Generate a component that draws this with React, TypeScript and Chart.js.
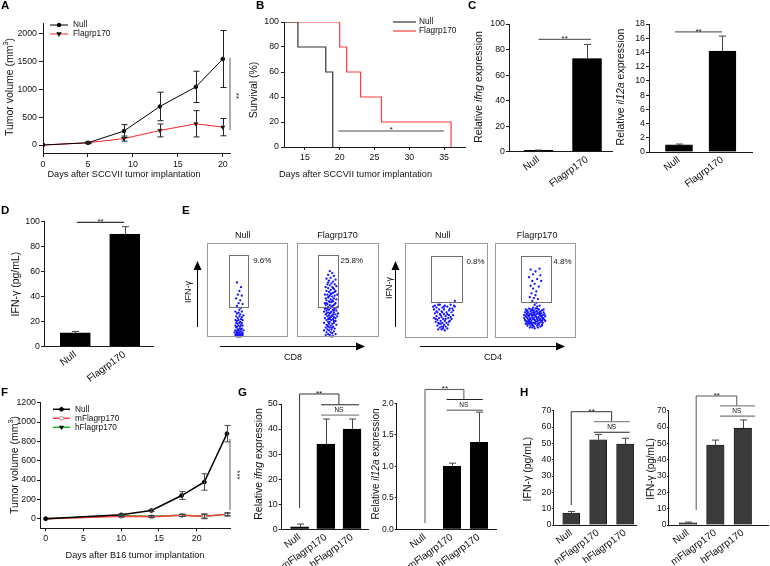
import React, { useEffect, useRef } from 'react';
import { Chart, registerables } from 'chart.js';
Chart.register(...registerables);

const FONT = '"Liberation Sans", Arial, Helvetica, sans-serif';
const AXIS = '#1a1a1a';
Chart.defaults.font.family = FONT;

// ---------- Panel A ----------
const daysA = [0, 5, 9, 13, 17, 20];
const nullA = [0, 40, 250, 690, 1040, 1540];
const nullAErr = [0, 15, 115, 255, 280, 510];
const flagA = [0, 40, 115, 260, 380, 320];
const flagAErr = [0, 15, 45, 115, 235, 155];
const xTicksA = [0, 5, 10, 15, 20];
const yTicksA = [0, 500, 1000, 1500, 2000];

// ---------- Panel B ----------
const nullBTime = [12, 14, 18, 19];
const nullBSurv = [100, 80, 60, 0];
const flagBTime = [12, 20, 21, 23, 26, 36];
const flagBSurv = [100, 80, 60, 40, 20, 0];
const xTicksB = [15, 20, 25, 30, 35];
const yTicksB = [0, 20, 40, 60, 80, 100];

// ---------- Panel C ----------
const catsC = ['Null', 'Flagrp170'];
const idxC = [0, 1];
const ifngC = [1, 73];
const ifngCErr = [0.3, 11];
const il12aC = [1, 14.2];
const il12aCErr = [0.12, 2.1];
const yTicksC1 = [0, 20, 40, 60, 80, 100];
const yTicksC2 = [0, 2, 4, 6, 8, 10, 12, 14, 16, 18];

// ---------- Panel D ----------
const ifnD = [11, 90];
const ifnDErr = [1.2, 6];
const yTicksD = [0, 20, 40, 60, 80, 100];

// ---------- Panel E (flow dots, box units 0-100) ----------
const cd8Null = [
  [37, 58], [42, 53], [40, 49], [38, 45], [43, 44], [36, 41], [41, 39], [39, 36], [44, 35], [37, 33], [42, 31], [40, 29],
  [35, 27], [39, 26], [43, 27], [37, 25], [41, 24], [45, 23], [36, 22], [40, 22], [43, 21], [38, 20], [42, 19], [35, 18],
  [39, 18], [44, 18], [37, 17], [41, 16], [36, 15], [40, 15], [43, 15], [38, 14], [42, 13], [35, 12], [39, 12], [44, 12],
  [37, 11], [41, 11], [36, 10], [40, 9], [43, 9], [38, 8], [42, 8], [35, 7], [39, 7], [45, 7], [37, 6], [41, 6], [34, 5],
  [38, 5], [43, 5], [36, 4], [40, 4], [44, 4], [37, 3], [39, 3], [42, 3], [35, 2], [38, 2], [41, 2], [44, 2], [36, 1],
  [40, 1], [43, 1], [37, 0.5], [39, 0.5], [41, 0.5],
];
const cd8Flag = [
  [40, 70], [43, 68], [38, 66], [45, 65], [41, 63], [36, 62], [47, 61], [39, 60], [44, 59], [42, 57], [37, 56], [46, 56],
  [40, 55], [48, 54], [35, 53], [43, 53], [38, 52], [45, 51], [41, 50], [36, 49], [47, 49], [39, 48], [44, 47], [42, 46],
  [34, 45], [37, 45], [49, 45], [40, 44], [46, 44], [43, 43], [38, 42], [35, 41], [45, 41], [41, 40], [48, 40], [36, 39],
  [44, 38], [39, 38], [42, 37], [47, 36], [34, 36], [37, 35], [40, 34], [45, 34], [43, 33], [38, 32], [50, 32], [35, 31],
  [41, 31], [46, 30], [39, 29], [44, 29], [36, 28], [48, 28], [42, 27], [33, 27], [38, 26], [45, 26], [40, 25], [47, 24],
  [35, 24], [43, 23], [37, 22], [49, 22], [41, 21], [45, 21], [34, 20], [39, 20], [44, 19], [36, 18], [42, 18], [47, 17],
  [38, 16], [40, 16], [33, 15], [45, 15], [43, 14], [36, 13], [48, 13], [41, 12], [38, 11], [44, 11], [35, 10], [40, 10],
  [46, 9], [42, 8], [37, 8], [33, 7], [39, 7], [45, 6], [41, 5], [36, 5], [43, 4], [38, 3], [47, 3], [40, 2], [35, 2],
  [44, 1], [42, 0.5], [39, 43], [43, 39], [37, 30], [46, 35], [41, 26], [38, 19], [44, 24], [35, 34], [47, 20], [40, 37],
  [42, 22], [36, 25], [45, 17], [39, 14], [43, 10], [37, 12], [50, 25], [34, 30], [41, 46], [46, 48], [38, 58], [44, 52],
  [40, 19], [42, 32], [48, 31], [36, 36], [39, 23], [45, 28],
];
const cd4Null = [
  [36, 34], [42, 35], [48, 34], [55, 35], [59, 34], [38, 32], [45, 32], [51, 33], [57, 31], [35, 30], [41, 30], [47, 30],
  [53, 29], [44, 28], [39, 27], [50, 27], [56, 27], [36, 26], [42, 25], [47, 25], [53, 24], [58, 24], [38, 23], [44, 22],
  [49, 23], [35, 21], [41, 21], [46, 20], [52, 21], [56, 20], [39, 19], [43, 18], [48, 18], [54, 18], [37, 17], [45, 16],
  [50, 16], [41, 15], [47, 14], [52, 14], [39, 13], [44, 12], [49, 12], [42, 11], [46, 10], [51, 10], [44, 9], [48, 8],
  [40, 9], [37, 20], [58, 29], [34, 33], [60, 33], [47, 33], [40, 35], [54, 31], [45, 27], [51, 25], [43, 24], [38, 28],
  [55, 22], [49, 20], [40, 16], [53, 17], [46, 12], [43, 15], [60, 39],
];
const cd4Flag = [
  [44, 72], [55, 73], [50, 70], [47, 67], [56, 66], [42, 64], [52, 62], [46, 60], [49, 57], [44, 55], [54, 54], [47, 52],
  [51, 49], [45, 47], [50, 45], [48, 42], [53, 41], [46, 39], [51, 37], [49, 35], [52, 33], [47, 32], [55, 34], [43, 43],
  [57, 60], [38, 30], [42, 31], [46, 30], [50, 31], [54, 30], [58, 29], [40, 29], [44, 28], [48, 29], [52, 28], [56, 28],
  [60, 27], [37, 27], [41, 27], [45, 26], [49, 27], [53, 26], [57, 26], [39, 25], [43, 25], [47, 24], [51, 25], [55, 24],
  [59, 24], [61, 25], [38, 23], [42, 23], [46, 22], [50, 23], [54, 22], [58, 22], [36, 21], [40, 21], [44, 20], [48, 21],
  [52, 20], [56, 20], [60, 21], [37, 19], [41, 19], [45, 18], [49, 19], [53, 18], [57, 18], [61, 19], [39, 17], [43, 17],
  [47, 16], [51, 17], [55, 16], [59, 16], [38, 15], [42, 15], [46, 14], [50, 15], [54, 14], [58, 14], [40, 13], [44, 13],
  [48, 12], [52, 13], [56, 12], [43, 11], [49, 10], [53, 11], [46, 11], [39, 28], [47, 27], [55, 27], [41, 24], [49, 24],
  [57, 23], [39, 22], [47, 20], [55, 19], [43, 21], [51, 22], [59, 20], [41, 17], [49, 16], [57, 17], [45, 15], [53, 15],
  [36, 24], [62, 23], [44, 30], [52, 31], [60, 30], [48, 26], [42, 19], [50, 18], [58, 18], [45, 24], [53, 21], [47, 13],
  [40, 26], [56, 25], [38, 18], [62, 18], [44, 16], [51, 28], [46, 29], [54, 26], [40, 15], [58, 13],
];

// ---------- Panel F ----------
const daysF = [0, 10, 14, 18, 21, 24];
const nullF = [0, 40, 85, 240, 380, 880];
const nullFErr = [0, 10, 10, 40, 85, 85];
const mFlagF = [0, 25, 20, 35, 25, 45];
const mFlagFErr = [0, 8, 8, 10, 25, 15];
const hFlagF = [0, 30, 25, 35, 25, 45];
const hFlagFErr = [0, 10, 8, 12, 20, 15];
const xTicksF = [0, 5, 10, 15, 20];
const yTicksF = [0, 200, 400, 600, 800, 1000, 1200];

// ---------- Panel G ----------
const catsG = ['Null', 'mFlagrp170', 'hFlagrp170'];
const idxG = [0, 1, 2];
const ifngG = [1, 34, 40];
const ifngGErr = [1.1, 10, 4];
const il12aG = [0, 1.0, 1.38];
const il12aGErr = [0, 0.05, 0.48];
const yTicksG1 = [0, 10, 20, 30, 40, 50];
const yTicksG2 = [0, 0.5, 1, 1.5, 2];

// ---------- Panel H ----------
const ifnH1 = [7.3, 52.2, 49.6];
const ifnH1Err = [1, 3.3, 3.5];
const ifnH2 = [1.3, 49, 59.3];
const ifnH2Err = [0.5, 3, 5];
const yTicksH = [0, 10, 20, 30, 40, 50, 60, 70];

// ================= helpers =================
type Box = { l: number; t: number; w: number; h: number };
type Area = { x0: number; y0: number; x1: number; y1: number };

function layoutFor(box: Box, area: Area) {
  return {
    padding: {
      left: 0,
      top: area.y0 - box.t,
      right: box.l + box.w - area.x1,
      bottom: 0,
    },
  };
}

function axis(pos: 'x' | 'y', o: any) {
  const tl = o.tick ?? 0;
  return {
    type: 'linear',
    position: pos === 'x' ? 'bottom' : 'left',
    min: o.min,
    max: o.max,
    bounds: 'data',
    offset: false,
    afterBuildTicks: (s: any) => {
      s.ticks = o.ticks.map((v: number) => ({ value: v }));
    },
    afterFit: (s: any) => {
      if (pos === 'x') s.height = o.size;
      else s.width = o.size;
      s.paddingLeft = 0;
      s.paddingRight = 0;
      s.paddingTop = 0;
      s.paddingBottom = 0;
    },
    grid: {
      display: tl > 0,
      drawOnChartArea: false,
      drawTicks: tl > 0,
      tickLength: tl,
      color: AXIS,
      tickColor: AXIS,
      offset: false,
      lineWidth: 1,
    },
    border: { display: true, color: AXIS, width: 1 },
    ticks: {
      autoSkip: false,
      maxRotation: o.rot ?? 0,
      minRotation: o.rot ?? 0,
      padding: o.pad ?? 2,
      color: '#111',
      font: { family: FONT, size: o.fontSize ?? 8.8 },
      callback: (v: number, i: number) => (o.labels ? o.labels[i] : Number(v).toFixed(o.dec ?? 0)),
    },
  };
}

function drawMarker(ctx: CanvasRenderingContext2D, ds: any, x: number, y: number) {
  const r = ds.pointRadius ?? 2;
  if (!r) return;
  ctx.save();
  ctx.fillStyle = ds.pointBackgroundColor ?? '#000';
  ctx.strokeStyle = ds.pointBorderColor ?? '#000';
  ctx.lineWidth = ds.pointBorderWidth ?? 1;
  ctx.beginPath();
  if (ds.pointStyle === 'triangle') {
    ctx.moveTo(x - r, y - r * 0.6);
    ctx.lineTo(x + r, y - r * 0.6);
    ctx.lineTo(x, y + r * 1.1);
    ctx.closePath();
  } else {
    ctx.arc(x, y, r, 0, Math.PI * 2);
  }
  ctx.fill();
  ctx.stroke();
  ctx.restore();
}

function deco(spec: any) {
  return {
    id: 'deco',
    afterDatasetsDraw(chart: any) {
      const { ctx, chartArea: ca } = chart;
      const xs = chart.scales.x;
      const ys = chart.scales.y;
      const px = (v: number) => xs.getPixelForValue(v);
      const py = (v: number) => ys.getPixelForValue(v);
      ctx.save();
      (spec.rects || []).forEach((r: any) => {
        ctx.strokeStyle = r.c;
        ctx.lineWidth = r.w ?? 1;
        const x0 = Math.round(px(r.x0)) + 0.5;
        const x1 = Math.round(px(r.x1)) - 0.5;
        const y0 = Math.round(py(r.y1)) + 0.5;
        const y1 = Math.round(py(r.y0)) - 0.5;
        ctx.strokeRect(x0, y0, x1 - x0, y1 - y0);
      });
      (spec.errors || []).forEach((errs: number[] | null, di: number) => {
        if (!errs) return;
        const meta = chart.getDatasetMeta(di);
        const ds = chart.data.datasets[di];
        const cap = spec.errCap ?? 3;
        meta.data.forEach((el: any, j: number) => {
          const e = errs[j];
          if (!e) return;
          const raw = ds.data[j];
          const v = typeof raw === 'number' ? raw : raw.y;
          const x = Math.round(el.x) + 0.5;
          const yT = py(v + e);
          const yB = spec.errMode === 'up' ? py(v) : py(v - e);
          ctx.strokeStyle = spec.errColor ?? '#333';
          ctx.lineWidth = 1;
          ctx.beginPath();
          ctx.moveTo(x, yT);
          ctx.lineTo(x, yB);
          ctx.moveTo(x - cap, yT);
          ctx.lineTo(x + cap, yT);
          if (spec.errMode !== 'up') {
            ctx.moveTo(x - cap, yB);
            ctx.lineTo(x + cap, yB);
          }
          ctx.stroke();
        });
      });
      (spec.lines || []).forEach((l: any) => {
        ctx.strokeStyle = l.c ?? '#444';
        ctx.lineWidth = l.w ?? 1;
        ctx.beginPath();
        ctx.moveTo(px(l.x0), py(l.y0));
        ctx.lineTo(px(l.x1), py(l.y1));
        ctx.stroke();
      });
      (spec.texts || []).forEach((t: any) => {
        ctx.save();
        ctx.fillStyle = t.c ?? '#111';
        ctx.font = `${t.size ?? 9}px ${FONT}`;
        ctx.textAlign = t.align ?? 'center';
        ctx.textBaseline = t.base ?? 'alphabetic';
        ctx.translate(px(t.x) + (t.dx ?? 0), py(t.y) + (t.dy ?? 0));
        if (t.rot) ctx.rotate((t.rot * Math.PI) / 180);
        ctx.fillText(t.t, 0, 0);
        ctx.restore();
      });
      const L = spec.legend;
      if (L) {
        chart.data.datasets.forEach((ds: any, k: number) => {
          const y = ca.top + L.dy + k * L.gap;
          const x0 = ca.left + L.dx;
          const x1 = x0 + L.len;
          ctx.strokeStyle = ds.borderColor;
          ctx.lineWidth = ds.borderWidth ?? 1;
          ctx.beginPath();
          ctx.moveTo(x0, y);
          ctx.lineTo(x1, y);
          ctx.stroke();
          drawMarker(ctx, ds, (x0 + x1) / 2, y);
          ctx.fillStyle = '#111';
          ctx.font = `${L.size ?? 8.3}px ${FONT}`;
          ctx.textAlign = 'left';
          ctx.textBaseline = 'middle';
          ctx.fillText(ds.label, ca.left + L.tdx, y);
        });
      }
      ctx.restore();
    },
  };
}

const baseOpts = (box: Box, area: Area) => ({
  responsive: false,
  animation: false,
  events: [],
  layout: layoutFor(box, area),
  plugins: { legend: { display: false }, tooltip: { enabled: false }, title: { display: false } },
});

function pts(xs: number[], ys: number[]) {
  return xs.map((x, i) => ({ x, y: ys[i] }));
}

function barChart(o: any) {
  const yW = o.area.x0 - o.box.l;
  const xH = o.box.t + o.box.h - o.area.y1;
  return {
    type: 'bar',
    data: {
      datasets: [
        {
          data: pts(o.idx, o.vals),
          backgroundColor: o.color,
          borderColor: '#000',
          borderWidth: 0.6,
          barThickness: o.thick,
        },
      ],
    },
    options: {
      ...baseOpts(o.box, o.area),
      scales: {
        x: axis('x', { min: o.xMin, max: o.xMax, ticks: o.idx, labels: o.cats, size: xH, tick: 0, pad: 2, rot: 36, fontSize: 10 }),
        y: axis('y', { min: 0, max: o.yMax, ticks: o.yTicks, dec: o.yDec, size: yW, tick: o.yTick ?? 3, pad: o.yPad ?? 1, fontSize: o.yFont ?? 8.8 }),
      },
    },
    plugins: [deco({ ...o.spec, errors: [o.errs], errMode: 'up', errCap: 3.5, errColor: '#444' })],
  };
}

function scatterChart(box: Box, area: Area, data: number[][], spec: any) {
  return {
    type: 'scatter',
    data: {
      datasets: [
        {
          data: data.map((p) => ({ x: p[0], y: p[1] })),
          pointRadius: 1.15,
          pointBackgroundColor: '#1414ff',
          pointBorderWidth: 0,
          clip: false,
        },
      ],
    },
    options: {
      responsive: false,
      animation: false,
      events: [],
      layout: {
        padding: { left: area.x0 - box.l, top: area.y0 - box.t, right: box.l + box.w - area.x1, bottom: box.t + box.h - area.y1 },
      },
      plugins: { legend: { display: false }, tooltip: { enabled: false } },
      scales: {
        x: { type: 'linear', min: 0, max: 100, display: false },
        y: { type: 'linear', min: 0, max: 100, display: false },
      },
    },
    plugins: [deco({ rects: [{ x0: 0, y0: 0, x1: 100, y1: 100, c: '#9a9a9a' }, ...spec.rects], texts: spec.texts })],
  };
}

function ChartCanvas({ box, make }: { box: Box; make: () => any }) {
  const ref = useRef<HTMLCanvasElement>(null);
  useEffect(() => {
    const chart = new Chart(ref.current as HTMLCanvasElement, make());
    return () => chart.destroy();
  }, []);
  return (
    <canvas
      ref={ref}
      width={box.w}
      height={box.h}
      style={{ position: 'absolute', left: box.l, top: box.t, width: box.w, height: box.h }}
    />
  );
}

function Lbl({ x, y, rot, size, children }: any) {
  return (
    <div
      style={{
        position: 'absolute',
        left: x,
        top: y,
        transform: `translate(-50%, -50%)${rot ? ` rotate(${rot}deg)` : ''}`,
        fontFamily: FONT,
        fontSize: size ?? 9.2,
        whiteSpace: 'nowrap',
        lineHeight: 1,
        color: '#111',
      }}
    >
      {children}
    </div>
  );
}

function Letter({ x, y, children }: any) {
  return (
    <div style={{ position: 'absolute', left: x, top: y, fontFamily: FONT, fontWeight: 700, fontSize: 11.5, lineHeight: 1, color: '#000' }}>
      {children}
    </div>
  );
}

// ================= charts =================
const boxA: Box = { l: 18, t: 8, w: 235, h: 167 };
const areaA: Area = { x0: 43, y0: 23, x1: 230, y1: 153 };
const makeA = () => ({
  type: 'line',
  data: {
    datasets: [
      {
        label: 'Null', data: pts(daysA, nullA), borderColor: '#000', borderWidth: 1,
        pointStyle: 'circle', pointRadius: 1.8, pointBackgroundColor: '#000', pointBorderColor: '#000', pointBorderWidth: 1,
      },
      {
        label: 'Flagrp170', data: pts(daysA, flagA), borderColor: '#ff2424', borderWidth: 1,
        pointStyle: 'triangle', pointRotation: 180, pointRadius: 2.3, pointBackgroundColor: '#000', pointBorderColor: '#000', pointBorderWidth: 0.5,
      },
    ],
  },
  options: {
    ...baseOpts(boxA, areaA),
    scales: {
      x: axis('x', { min: 0, max: 20.8, ticks: xTicksA, size: boxA.t + boxA.h - areaA.y1, tick: 4, pad: 2 }),
      y: axis('y', { min: -143, max: 2184, ticks: yTicksA, size: areaA.x0 - boxA.l, tick: 4, pad: 2 }),
    },
  },
  plugins: [
    deco({
      errors: [nullAErr, flagAErr], errMode: 'both', errCap: 3, errColor: '#222',
      lines: [{ x0: 20.8, y0: 1560, x1: 20.8, y1: 270, c: '#777', w: 1.2 }],
      texts: [{ x: 21.45, y: 880, t: '**', rot: 90, size: 8, base: 'middle' }],
      legend: { dx: 7, dy: 2, gap: 9, len: 18, tdx: 30 },
    }),
  ],
});

const boxB: Box = { l: 262, t: 8, w: 210, h: 167 };
const areaB: Area = { x0: 284, y0: 22, x1: 465, y1: 147 };
const makeB = () => ({
  type: 'line',
  data: {
    datasets: [
      { label: 'Null', data: pts(nullBTime, nullBSurv), borderColor: '#333', borderWidth: 1.2, stepped: 'before', pointRadius: 0 },
      { label: 'Flagrp170', data: pts(flagBTime, flagBSurv), borderColor: '#ff3b3b', borderWidth: 1.2, stepped: 'before', pointRadius: 0 },
    ],
  },
  options: {
    ...baseOpts(boxB, areaB),
    scales: {
      x: axis('x', { min: 12, max: 38, ticks: xTicksB, size: boxB.t + boxB.h - areaB.y1, tick: 3, pad: 2 }),
      y: axis('y', { min: 0, max: 100, ticks: yTicksB, size: areaB.x0 - boxB.l, tick: 3, pad: 2 }),
    },
  },
  plugins: [
    deco({
      lines: [{ x0: 19.8, y0: 12.8, x1: 35, y1: 12.8, c: '#888', w: 1.4 }],
      texts: [{ x: 27.4, y: 12.8, t: '*', size: 8, dy: 1 }],
      legend: { dx: 109, dy: 0, gap: 9, len: 23, tdx: 135 },
    }),
  ],
});

const boxC1: Box = { l: 484, t: 8, w: 132, h: 187 };
const areaC1: Area = { x0: 509, y0: 24, x1: 612, y1: 151.7 };
const makeC1 = () =>
  barChart({
    box: boxC1, area: areaC1, idx: idxC, cats: catsC, vals: ifngC, errs: ifngCErr, color: '#000', thick: 29,
    xMin: -0.608, xMax: 1.515, yMax: 100, yTicks: yTicksC1,
    spec: {
      lines: [{ x0: 0, y0: 88, x1: 1.08, y1: 88, c: '#666', w: 1.2 }],
      texts: [{ x: 0.54, y: 88, t: '**', size: 8, dy: 2 }],
    },
  });

const boxC2: Box = { l: 624, t: 8, w: 134, h: 187 };
const areaC2: Area = { x0: 649, y0: 24, x1: 752, y1: 152 };
const makeC2 = () =>
  barChart({
    box: boxC2, area: areaC2, idx: idxC, cats: catsC, vals: il12aC, errs: il12aCErr, color: '#000', thick: 27,
    xMin: -0.69, xMax: 1.68, yMax: 18, yTicks: yTicksC2,
    spec: {
      lines: [{ x0: -0.09, y0: 16.9, x1: 0.99, y1: 16.9, c: '#666', w: 1.2 }],
      texts: [{ x: 0.45, y: 16.9, t: '**', size: 8, dy: 2 }],
    },
  });

const boxD: Box = { l: 18, t: 205, w: 140, h: 185 };
const areaD: Area = { x0: 44, y0: 221.7, x1: 153, y1: 346.7 };
const makeD = () =>
  barChart({
    box: boxD, area: areaD, idx: idxC, cats: catsC, vals: ifnD, errs: ifnDErr, color: '#000', thick: 30,
    xMin: -0.634, xMax: 1.573, yMax: 100, yTicks: yTicksD,
    spec: {
      lines: [{ x0: 0.03, y0: 99.5, x1: 0.99, y1: 99.5, c: '#333', w: 1.1 }],
      texts: [{ x: 0.51, y: 99.5, t: '**', size: 8, dy: 2 }],
    },
  });

const boxE1: Box = { l: 203, t: 228, w: 89, h: 113 };
const areaE1: Area = { x0: 204, y0: 243, x1: 290, y1: 339 };
const boxE2: Box = { l: 293, t: 228, w: 90, h: 113 };
const areaE2: Area = { x0: 294, y0: 243, x1: 381, y1: 339 };
const boxE3: Box = { l: 401, t: 228, w: 91, h: 114 };
const areaE3: Area = { x0: 402, y0: 243, x1: 490, y1: 340 };
const boxE4: Box = { l: 491, t: 228, w: 89, h: 114 };
const areaE4: Area = { x0: 492, y0: 243, x1: 578, y1: 340 };

const makeE1 = () =>
  scatterChart(boxE1, areaE1, cd8Null, {
    rects: [{ x0: 26.7, y0: 31.3, x1: 52.3, y1: 87.5, c: '#707070' }],
    texts: [
      { x: 44, y: 100, t: 'Null', dy: -7, base: 'middle', size: 9 },
      { x: 57, y: 81, t: '9.6%', align: 'left', base: 'middle', size: 8 },
    ],
  });
const makeE2 = () =>
  scatterChart(boxE2, areaE2, cd8Flag, {
    rects: [{ x0: 25.3, y0: 31.3, x1: 51.7, y1: 87.5, c: '#707070' }],
    texts: [
      { x: 49.4, y: 100, t: 'Flagrp170', dy: -7, base: 'middle', size: 9 },
      { x: 53, y: 81, t: '25.8%', align: 'left', base: 'middle', size: 8 },
    ],
  });
const makeE3 = () =>
  scatterChart(boxE3, areaE3, cd4Null, {
    rects: [{ x0: 31.8, y0: 37.1, x1: 69.3, y1: 86.6, c: '#707070' }],
    texts: [
      { x: 45.5, y: 100, t: 'Null', dy: -7, base: 'middle', size: 9 },
      { x: 74, y: 80, t: '0.8%', align: 'left', base: 'middle', size: 8 },
    ],
  });
const makeE4 = () =>
  scatterChart(boxE4, areaE4, cd4Flag, {
    rects: [{ x0: 32.6, y0: 37.1, x1: 69.8, y1: 86.6, c: '#707070' }],
    texts: [
      { x: 52, y: 100, t: 'Flagrp170', dy: -7, base: 'middle', size: 9 },
      { x: 72, y: 80, t: '4.8%', align: 'left', base: 'middle', size: 8 },
    ],
  });

const boxF: Box = { l: 15, t: 390, w: 238, h: 157 };
const areaF: Area = { x0: 40, y0: 402.7, x1: 230, y1: 528.3 };
const makeF = () => ({
  type: 'line',
  data: {
    datasets: [
      {
        label: 'Null', data: pts(daysF, nullF), borderColor: '#000', borderWidth: 1.5,
        pointStyle: 'circle', pointRadius: 1.9, pointBackgroundColor: '#000', pointBorderColor: '#000', pointBorderWidth: 1,
      },
      {
        label: 'mFlagrp170', data: pts(daysF, mFlagF), borderColor: '#ff3d3d', borderWidth: 1.5,
        pointStyle: 'circle', pointRadius: 2, pointBackgroundColor: '#fff', pointBorderColor: '#888', pointBorderWidth: 0.8,
      },
      {
        label: 'hFlagrp170', data: pts(daysF, hFlagF), borderColor: '#22b022', borderWidth: 1.5,
        pointStyle: 'triangle', pointRotation: 180, pointRadius: 2.2, pointBackgroundColor: '#000', pointBorderColor: '#000', pointBorderWidth: 0.5,
      },
    ],
  },
  options: {
    ...baseOpts(boxF, areaF),
    scales: {
      x: axis('x', { min: -0.75, max: 24.4, ticks: xTicksF, size: boxF.t + boxF.h - areaF.y1, tick: 3, pad: 2 }),
      y: axis('y', { min: -99, max: 1200, ticks: yTicksF, size: areaF.x0 - boxF.l, tick: 3, pad: 1 }),
    },
  },
  plugins: [
    deco({
      errors: [nullFErr, mFlagFErr, hFlagFErr], errMode: 'both', errCap: 3, errColor: '#444',
      lines: [{ x0: 24.4, y0: 824, x1: 24.4, y1: 90, c: '#777', w: 1.2 }],
      texts: [{ x: 25.3, y: 452, t: '***', rot: 90, size: 8, base: 'middle' }],
      legend: { dx: 13, dy: 6.6, gap: 9, len: 17, tdx: 35 },
    }),
  ],
});

const boxG1: Box = { l: 260, t: 385, w: 112, h: 181 };
const areaG1: Area = { x0: 281.7, y0: 404, x1: 368, y1: 529.3 };
const makeG1 = () =>
  barChart({
    box: boxG1, area: areaG1, idx: idxG, cats: catsG, vals: ifngG, errs: ifngGErr, color: '#000', thick: 18,
    xMin: -0.683, xMax: 2.61, yMax: 50, yTicks: yTicksG1,
    spec: {
      lines: [
        { x0: 0, y0: 8.5, x1: 0, y1: 54, c: '#333' },
        { x0: 0, y0: 54, x1: 1.5, y1: 54, c: '#333' },
        { x0: 1.5, y0: 54, x1: 1.5, y1: 49.7, c: '#333' },
        { x0: 0.82, y0: 49.7, x1: 2.27, y1: 49.7, c: '#222', w: 1.1 },
        { x0: 0.82, y0: 45.6, x1: 2.27, y1: 45.6, c: '#888', w: 1.3 },
      ],
      texts: [
        { x: 1.5, y: 47.65, t: 'NS', size: 6.5, base: 'middle' },
        { x: 0.74, y: 54, t: '**', size: 8, dy: 2 },
      ],
    },
  });

const boxG2: Box = { l: 373, t: 385, w: 126, h: 181 };
const areaG2: Area = { x0: 396.7, y0: 403.3, x1: 496.7, y1: 529.3 };
const makeG2 = () =>
  barChart({
    box: boxG2, area: areaG2, idx: idxG, cats: catsG, vals: il12aG, errs: il12aGErr, color: '#000', thick: 17.5,
    xMin: -1.048, xMax: 2.656, yMax: 2, yTicks: yTicksG2, yDec: 1, yFont: 8.5, yTick: 2, yPad: 1,
    spec: {
      lines: [
        { x0: 0, y0: 0.1, x1: 0, y1: 2.22, c: '#555' },
        { x0: 0, y0: 2.22, x1: 1.44, y1: 2.22, c: '#555' },
        { x0: 1.44, y0: 2.22, x1: 1.44, y1: 2.06, c: '#555' },
        { x0: 0.8, y0: 2.06, x1: 2.14, y1: 2.06, c: '#222', w: 1.1 },
        { x0: 0.8, y0: 1.89, x1: 2.14, y1: 1.89, c: '#888', w: 1.3 },
      ],
      texts: [
        { x: 1.44, y: 1.975, t: 'NS', size: 6.5, base: 'middle' },
        { x: 0.74, y: 2.22, t: '**', size: 8, dy: 2 },
      ],
    },
  });

const boxH1: Box = { l: 531, t: 385, w: 110, h: 181 };
const areaH1: Area = { x0: 553.3, y0: 410.7, x1: 636.7, y1: 525 };
const makeH1 = () =>
  barChart({
    box: boxH1, area: areaH1, idx: idxG, cats: catsG, vals: ifnH1, errs: ifnH1Err, color: '#3a3a3a', thick: 17,
    xMin: -0.667, xMax: 2.43, yMax: 70, yTicks: yTicksH, yTick: 1.5, yPad: 0.5,
    spec: {
      lines: [
        { x0: 0, y0: 12.2, x1: 0, y1: 69.4, c: '#333' },
        { x0: 0, y0: 69.4, x1: 1.5, y1: 69.4, c: '#333' },
        { x0: 1.5, y0: 69.4, x1: 1.5, y1: 63.3, c: '#333' },
        { x0: 0.84, y0: 63.3, x1: 2.17, y1: 63.3, c: '#888', w: 1.3 },
        { x0: 0.84, y0: 56.8, x1: 2.17, y1: 56.8, c: '#222', w: 1.1 },
      ],
      texts: [
        { x: 1.5, y: 60, t: 'NS', size: 6.5, base: 'middle' },
        { x: 0.76, y: 69.4, t: '**', size: 8, dy: 2 },
      ],
    },
  });

const boxH2: Box = { l: 644, t: 385, w: 126, h: 181 };
const areaH2: Area = { x0: 668.5, y0: 410.7, x1: 768, y1: 525 };
const makeH2 = () =>
  barChart({
    box: boxH2, area: areaH2, idx: idxG, cats: catsG, vals: ifnH2, errs: ifnH2Err, color: '#3a3a3a', thick: 17.5,
    xMin: -0.71, xMax: 2.92, yMax: 70, yTicks: yTicksH, yTick: 1.5, yPad: 0.5, yFont: 8.5,
    spec: {
      lines: [
        { x0: 0.3, y0: 9.2, x1: 0.3, y1: 79, c: '#555' },
        { x0: 0.3, y0: 79, x1: 1.78, y1: 79, c: '#555' },
        { x0: 1.78, y0: 79, x1: 1.78, y1: 72.9, c: '#555' },
        { x0: 1.17, y0: 72.9, x1: 2.45, y1: 72.9, c: '#888', w: 1.3 },
        { x0: 1.17, y0: 66.7, x1: 2.45, y1: 66.7, c: '#777', w: 1.2 },
      ],
      texts: [
        { x: 1.78, y: 69.8, t: 'NS', size: 6.5, base: 'middle' },
        { x: 1.05, y: 79, t: '**', size: 8, dy: 2 },
      ],
    },
  });

const ROT = 10.5;

export default function App() {
  return (
    <div style={{ position: 'absolute', left: 0, top: 0, width: 770, height: 566, background: '#fff', overflow: 'hidden' }}>
      <ChartCanvas box={boxA} make={makeA} />
      <ChartCanvas box={boxB} make={makeB} />
      <ChartCanvas box={boxC1} make={makeC1} />
      <ChartCanvas box={boxC2} make={makeC2} />
      <ChartCanvas box={boxD} make={makeD} />
      <ChartCanvas box={boxE1} make={makeE1} />
      <ChartCanvas box={boxE2} make={makeE2} />
      <ChartCanvas box={boxE3} make={makeE3} />
      <ChartCanvas box={boxE4} make={makeE4} />
      <ChartCanvas box={boxF} make={makeF} />
      <ChartCanvas box={boxG1} make={makeG1} />
      <ChartCanvas box={boxG2} make={makeG2} />
      <ChartCanvas box={boxH1} make={makeH1} />
      <ChartCanvas box={boxH2} make={makeH2} />

      <svg style={{ position: 'absolute', left: 0, top: 0 }} width={770} height={566}>
        <line x1={197.5} y1={327} x2={197.5} y2={268} stroke="#000" strokeWidth={1} />
        <polygon points="197.5,261 193.5,270 201.5,270" fill="#000" />
        <line x1={395.5} y1={327} x2={395.5} y2={268} stroke="#000" strokeWidth={1} />
        <polygon points="395.5,261 391.5,270 399.5,270" fill="#000" />
        <line x1={220} y1={346.5} x2={358} y2={346.5} stroke="#000" strokeWidth={1} />
        <polygon points="365,346.5 356,342.5 356,350.5" fill="#000" />
        <line x1={420} y1={346.5} x2={558} y2={346.5} stroke="#000" strokeWidth={1} />
        <polygon points="565,346.5 556,342.5 556,350.5" fill="#000" />
      </svg>

      <Letter x={1} y={0}>A</Letter>
      <Letter x={256} y={0}>B</Letter>
      <Letter x={468} y={0}>C</Letter>
      <Letter x={1} y={205}>D</Letter>
      <Letter x={182} y={205}>E</Letter>
      <Letter x={1} y={387}>F</Letter>
      <Letter x={238} y={387}>G</Letter>
      <Letter x={520} y={387}>H</Letter>

      <Lbl x={8} y={87} rot={-90} size={ROT}>Tumor volume (mm<sup style={{ fontSize: '70%' }}>3</sup>)</Lbl>
      <Lbl x={124} y={175}>Days after SCCVII tumor implantation</Lbl>
      <Lbl x={253} y={90} rot={-90} size={ROT}>Survival (%)</Lbl>
      <Lbl x={355.5} y={175}>Days after SCCVII tumor implantation</Lbl>
      <Lbl x={478} y={87} rot={-90} size={ROT}>Relative <i>ifng</i> expression</Lbl>
      <Lbl x={620} y={87} rot={-90} size={ROT}>Relative <i>il12a</i> expression</Lbl>
      <Lbl x={15} y={284} rot={-90} size={ROT}>IFN-γ (pg/mL)</Lbl>
      <Lbl x={188} y={292} rot={-90} size={9}>IFN-γ</Lbl>
      <Lbl x={389} y={288} rot={-90} size={9}>IFN-γ</Lbl>
      <Lbl x={293} y={357} size={9}>CD8</Lbl>
      <Lbl x={493} y={357} size={9}>CD4</Lbl>
      <Lbl x={13} y={465} rot={-90} size={ROT}>Tumor volume (mm<sup style={{ fontSize: '70%' }}>3</sup>)</Lbl>
      <Lbl x={135} y={556}>Days after B16 tumor implantation</Lbl>
      <Lbl x={258} y={464} rot={-90} size={ROT}>Relative <i>ifng</i> expression</Lbl>
      <Lbl x={375.5} y={464} rot={-90} size={10}>Relative <i>il12a</i> expression</Lbl>
      <Lbl x={527} y={469} rot={-90} size={ROT}>IFN-γ (pg/mL)</Lbl>
      <Lbl x={651} y={469} rot={-90} size={10}>IFN-γ (pg/mL)</Lbl>
    </div>
  );
}
